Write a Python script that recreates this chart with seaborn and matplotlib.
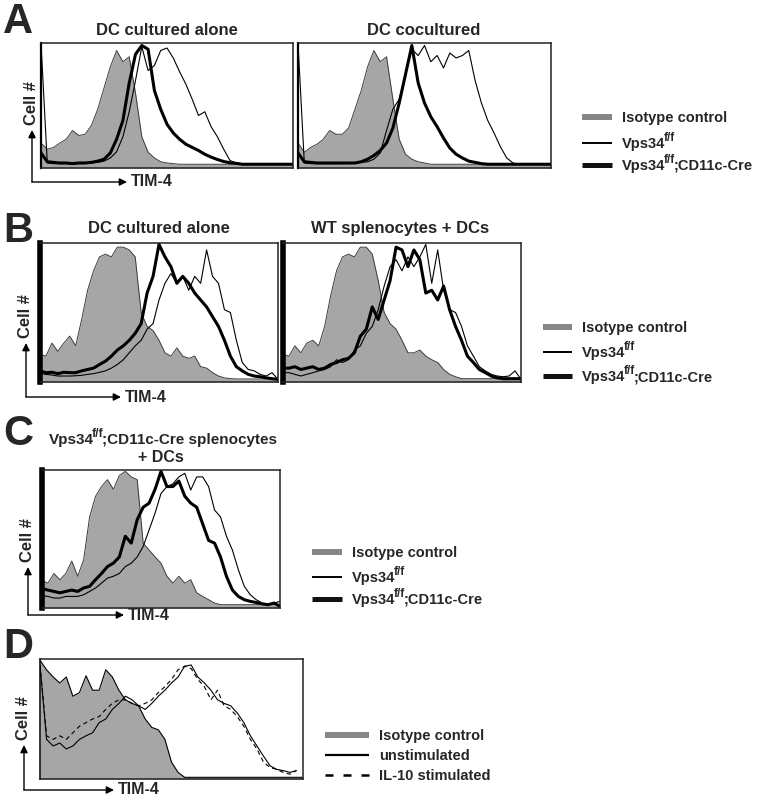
import matplotlib
matplotlib.use("Agg")
import matplotlib.pyplot as plt
import seaborn as sns
from matplotlib.lines import Line2D

# TIM-4 channel positions (same grid for every histogram, 0-100 scale)
channel = [0, 2.5, 5, 7.5, 10, 12.5, 15, 17.5, 20, 22.5, 25, 27.5, 30, 32.5, 35, 37.5,
           40, 42.5, 45, 47.5, 50, 52.5, 55, 57.5, 60, 62.5, 65, 67.5, 70, 72.5, 75,
           77.5, 80, 82.5, 85, 87.5, 90, 92.5, 95, 97.5, 100]

# panel A, DC cultured alone
a1_iso = [20, 15, 16.5, 20, 23, 30, 26, 27, 34, 47, 64, 81, 94, 85, 89, 60, 25, 12.6, 8, 5,
          4, 3.5, 3, 3, 3, 3, 3, 3, 3, 3, 3, 3, 3, 3, 3, 3, 3, 3, 3, 3, 3]
a1_wt = [100, 4, 3.5, 3.5, 3.5, 3.5, 3.5, 3.8, 4, 4.5, 5.5, 8, 13, 25, 45, 70, 97, 78, 82, 94,
         96, 88, 77, 67, 55, 42, 45, 33, 25, 15, 6, 4, 3, 3, 3, 3, 3, 3, 3, 3, 3]
a1_ko = [12, 5, 4.5, 4, 4, 3.5, 4, 4, 4.5, 5.5, 7, 12, 23, 38, 68, 91, 98, 95, 62, 47,
         35, 28, 23, 19, 16.5, 14, 11, 8.7, 6.8, 5.2, 4.2, 3.7, 3, 3, 3, 3, 3, 3, 3, 3, 3]

# panel A, DC cocultured
a2_iso = [20, 12.6, 16.5, 19, 23, 30, 27, 27, 32, 47, 62, 81, 94, 85, 89, 55, 23, 11, 7, 5,
          4, 3, 3, 3, 3, 3, 3, 3, 3, 3, 3, 3, 3, 3, 3, 3, 3, 3, 3, 3, 3]
a2_wt = [100, 4, 3.5, 3.5, 3.5, 3.5, 3.5, 3.5, 3.8, 4, 4.5, 5, 7, 12, 30, 47, 55, 75, 95, 90,
         98, 85, 90, 80, 92, 88, 90, 94, 70, 52, 38, 28, 17, 8, 4, 3, 3, 3, 3, 3, 3]
a2_ko = [12, 5, 4.5, 4, 4, 4, 4, 4, 4, 4, 5, 7, 10, 14, 20, 32, 52, 75, 98, 68,
         52, 41, 33, 24, 16, 11, 8, 5.5, 4.5, 3.5, 3, 3, 3, 3, 3, 3, 3, 3, 3, 3, 3]

# panel B, DC cultured alone
b1_iso = [20, 18.6, 28, 22, 28, 33, 26, 45, 66, 80, 90, 92, 90, 97, 97, 95, 90, 50, 40, 37,
          30, 21, 18.6, 24.5, 18.6, 17, 18.6, 11, 10, 6.7, 4.3, 3, 2.4, 2.2, 2.2, 2.2, 2.2,
          2.2, 2.2, 2.2, 2.2]
b1_wt = [6, 5.5, 5, 4.3, 4.3, 4.3, 4.5, 4.8, 5.5, 6, 7, 8, 10, 12.6, 16, 21, 26, 30, 38, 42,
         59, 71, 78, 71, 76, 66, 76, 71, 95, 76, 71, 52, 50, 30, 14, 9, 8, 5.5, 4.3, 6.7, 1.9]
b1_ko = [8, 6.7, 7, 6, 7, 6.7, 6.7, 8, 9, 10, 12.6, 15, 18.6, 23, 26, 30, 35, 42, 64, 76,
         99, 90, 83, 71, 76, 71, 64, 59, 54, 47, 40, 30, 18.6, 11, 8, 5.5, 4.3, 3.8, 3, 2.4, 1.9]

# panel B, WT splenocytes + DCs
b2_iso = [20, 18.6, 26, 21, 28, 30, 26, 40, 62, 80, 90, 92, 90, 97, 97, 92, 73, 50, 42, 38,
          30, 21, 21, 23, 18.6, 16, 14, 9, 5.5, 3.8, 2.4, 2.4, 2.4, 2.4, 2.4, 2.4, 2.4, 2.4,
          2.4, 2.4, 2.4]
b2_wt = [6.7, 6.7, 5.5, 4.3, 5.5, 6.7, 8, 9, 11, 16, 14, 16, 23, 26, 35, 40, 52, 69, 83, 88,
         80, 90, 83, 90, 99, 71, 95, 66, 52, 50, 40, 26, 18.6, 11, 8, 5.5, 4.3, 3.8, 4.3, 8, 1.9]
b2_ko = [10, 10, 11, 9, 10, 11, 9, 10, 12.6, 14, 16, 17, 21, 33, 38, 54, 45, 59, 73, 97,
         95, 83, 95, 88, 64, 66, 59, 69, 52, 40, 30, 18.6, 14, 9, 6.7, 4.3, 3, 2.4, 2.4, 2.4, 2.4]

# panel C, Vps34 f/f;CD11c-Cre splenocytes + DCs
c_iso = [20, 18, 25, 20.5, 25, 34, 23, 35, 66, 81, 88, 93, 86, 96, 99, 95, 93, 47, 42, 37,
         32.5, 23, 18, 23, 18, 20.5, 11, 8.4, 6, 3.6, 2.4, 2.4, 2.4, 2.4, 2.4, 2.4, 2.4, 2.4,
         2.4, 2.4, 2.4]
c_wt = [9, 8.4, 7.2, 7.2, 8.4, 8.4, 8.4, 9.6, 12, 14.5, 18, 21.7, 23, 25, 30, 32.5, 37, 44.6,
        56.6, 68.7, 83, 88, 90, 95, 97.6, 85.5, 95, 95, 88, 71, 66, 52, 42, 27.7, 15.7, 9.6,
        6, 3.6, 2.4, 3.6, 4.8]
c_ko = [14, 13, 12, 11, 12, 13, 12, 14.5, 15.7, 20.5, 25, 30, 32.5, 37, 52, 47, 64, 73, 76,
        86, 99, 88, 88, 92, 81, 76, 73, 61, 49, 47, 37, 23, 13, 8.4, 6, 4.8, 4, 3, 2.4, 3.6, 1.2]

# panel D, IL-10 stimulation
d_iso = [99, 91, 85, 80, 85, 69, 72, 86, 74, 74, 91, 85, 74, 66, 63, 61, 50, 43, 41, 33,
         14, 5.5, 1.4, 1.4, 1.4, 1.4, 1.4, 1.4, 1.4, 1.4, 1.4, 1.4, 1.4, 1.4, 1.4, 1.4, 1.4,
         1.4, 1.4, 1.4, 1.4]
d_unstim = [95, 33, 27.5, 30, 25, 27.5, 33, 36, 38.5, 47, 50, 58, 63, 69, 66, 61, 58, 63, 69,
            74, 80, 85, 94, 95, 85, 80, 74, 66, 63, 61, 55, 47, 36, 27.5, 19, 11, 8, 7, 5.5,
            7, float("nan")]
d_il10 = [95, 36, 33, 36, 33, 38.5, 44, 47, 50, 52, 58, 63, 66, 66, 63, 61, 63, 66, 72, 77,
          83, 91, 94, 92, 83, 77, 66, 74, 61, 58, 52, 44, 33, 25, 14, 9.6, 8, 5.5, 4, 7,
          float("nan")]

# legend labels, (text, is_superscript) pieces
lbl_iso = [("Isotype control", False)]
lbl_wt = [("Vps34", False), ("f/f", True)]
lbl_ko = [("Vps34", False), ("f/f", True), (";CD11c-Cre", False)]
title_c = [("Vps34", False), ("f/f", True), (";CD11c-Cre splenocytes", False)]

sns.set_theme(style="white")
plt.rcParams["font.family"] = ["Liberation Sans", "DejaVu Sans"]
plt.rcParams["font.weight"] = "bold"

W, H = 762, 800
fig = plt.figure(figsize=(W / 100, H / 100), dpi=100)
renderer = fig.canvas.get_renderer()
FILL = "#a6a6a6"
KEYGRAY = "#868686"


def fx(x):
    return x / W


def fy(y):
    return 1 - y / H


def rich_text(x, y, parts, size, center=False):
    # x, y in pixels from the top left, y is the baseline
    items = []
    for s, sup in parts:
        fs = size * 0.8 if sup else size
        t = fig.text(0, 0, s, fontsize=fs, fontweight="bold", ha="left", va="baseline")
        w = t.get_window_extent(renderer).width - 1.5
        items.append((t, sup, w))
    total = sum(w for _, _, w in items)
    cur = x - total / 2 if center else x
    for t, sup, w in items:
        dy = 0.45 * size * 100 / 72 if sup else 0
        t.set_position((fx(cur), fy(y - dy)))
        cur += w


def panel(x0, y0, x1, y1, left_lw=1.1):
    ax = fig.add_axes([fx(x0), fy(y1), (x1 - x0) / W, (y1 - y0) / H])
    ax.set_xlim(0, 100)
    ax.set_ylim(0, 100)
    ax.set_xticks([])
    ax.set_yticks([])
    for s in ax.spines.values():
        s.set_color("#222222")
        s.set_linewidth(1.1)
    ax.spines["left"].set_linewidth(left_lw)
    ax.spines["left"].set_color("black")
    return ax


def hist(ax, iso, thin, thick):
    ax.fill_between(channel, iso, 0, color=FILL, lw=0)
    sns.lineplot(x=channel, y=iso, ax=ax, color="#3c3c3c", lw=0.7, estimator=None, sort=False)
    sns.lineplot(x=channel, y=thin, ax=ax, color="black", lw=0.8, estimator=None, sort=False)
    sns.lineplot(x=channel, y=thick, ax=ax, color="black", lw=2.2, estimator=None, sort=False)
    ax.set_xlabel("")
    ax.set_ylabel("")


def axis_arrows(cx, cy, top, right, lab_x, lab_y):
    ap = dict(arrowstyle="-|>", lw=1.0, color="black", mutation_scale=11, shrinkA=0, shrinkB=0)
    fig.add_artist(plt.Annotation("", xy=(fx(cx), fy(top)), xytext=(fx(cx), fy(cy)),
                                  xycoords="figure fraction", arrowprops=ap))
    fig.add_artist(plt.Annotation("", xy=(fx(right), fy(cy)), xytext=(fx(cx), fy(cy)),
                                  xycoords="figure fraction", arrowprops=ap))
    fig.text(fx(lab_x), fy(lab_y), "TIM-4", ha="left", va="center", fontsize=11.5,
             fontweight="bold")
    # y label sits just above the vertical arrow head
    fig.text(fx(cx - 1), fy(top - 27), "Cell #", ha="center", va="center", rotation=90,
             fontsize=12, fontweight="bold")


def key(x0, x1, ys, labels, styles):
    for y, lab, st in zip(ys, labels, styles):
        fig.add_artist(Line2D([fx(x0), fx(x1)], [fy(y), fy(y)], transform=fig.transFigure,
                              solid_capstyle="butt", dash_capstyle="butt", **st))
        rich_text(x1 + 10, y + 5, lab, 10.5)


thick_styles = [dict(color=KEYGRAY, lw=4.3), dict(color="black", lw=1.4),
                dict(color="#111111", lw=3.6)]

# ---- A
ax = panel(41, 43, 293, 168, left_lw=1.6)
hist(ax, a1_iso, a1_wt, a1_ko)
ax = panel(298, 43, 551, 168, left_lw=1.6)
hist(ax, a2_iso, a2_wt, a2_ko)
fig.text(fx(3), fy(33), "A", fontsize=30, fontweight="bold", ha="left", va="baseline")
fig.text(fx(167), fy(35), "DC cultured alone", fontsize=12, fontweight="bold", ha="center",
         va="baseline")
fig.text(fx(424), fy(35), "DC cocultured", fontsize=12, fontweight="bold", ha="center",
         va="baseline")
axis_arrows(32, 182, 130, 127, 131, 182)
key(582, 612, [117, 143, 165], [lbl_iso, lbl_wt, lbl_ko], thick_styles)

# ---- B
ax = panel(40, 243, 278, 382, left_lw=4)
hist(ax, b1_iso, b1_wt, b1_ko)
ax = panel(283, 243, 521, 382, left_lw=4)
hist(ax, b2_iso, b2_wt, b2_ko)
fig.text(fx(3), fy(242), "B", fontsize=30, fontweight="bold", ha="left", va="baseline")
fig.text(fx(159), fy(233), "DC cultured alone", fontsize=12, fontweight="bold", ha="center",
         va="baseline")
fig.text(fx(400), fy(233), "WT splenocytes + DCs", fontsize=12, fontweight="bold",
         ha="center", va="baseline")
axis_arrows(26, 397, 343, 121, 125, 397)
key(543, 572, [327, 352, 376], [lbl_iso, lbl_wt, lbl_ko], thick_styles)

# ---- C
ax = panel(42, 470, 280, 608, left_lw=4)
hist(ax, c_iso, c_wt, c_ko)
fig.text(fx(3), fy(445), "C", fontsize=30, fontweight="bold", ha="left", va="baseline")
rich_text(162, 444, title_c, 11, center=True)
fig.text(fx(161), fy(462), "+ DCs", fontsize=11.5, fontweight="bold", ha="center",
         va="baseline")
axis_arrows(28, 615, 567, 124, 128, 616)
key(312, 342, [552, 577, 599], [lbl_iso, lbl_wt, lbl_ko], thick_styles)

# ---- D
ax = panel(40, 659, 303, 779)
ax.fill_between(channel, d_iso, 0, color=FILL, lw=0)
sns.lineplot(x=channel, y=d_iso, ax=ax, color="black", lw=0.8, estimator=None, sort=False)
sns.lineplot(x=channel, y=d_unstim, ax=ax, color="black", lw=0.8, estimator=None, sort=False)
sns.lineplot(x=channel, y=d_il10, ax=ax, color="black", lw=0.8, estimator=None, sort=False)
ax.lines[-1].set_dashes((4, 3))
ax.set_xlabel("")
ax.set_ylabel("")
fig.text(fx(3), fy(658), "D", fontsize=30, fontweight="bold", ha="left", va="baseline")
axis_arrows(24, 790, 745, 114, 118, 790)
key(325, 369, [735, 755, 775],
    [lbl_iso, [("unstimulated", False)], [("IL-10 stimulated", False)]],
    [dict(color=KEYGRAY, lw=4.3), dict(color="black", lw=1.6),
     dict(color="black", lw=1.8, dashes=(3.2, 4))])

fig.savefig("out.png", dpi=100)
